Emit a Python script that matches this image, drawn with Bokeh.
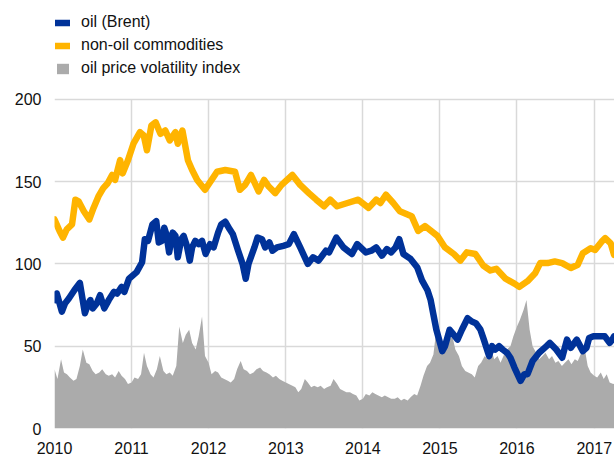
import pandas as pd
from bokeh.plotting import figure
from bokeh.models import (Range1d, FixedTicker, DatetimeTickFormatter, Legend,
                          LegendItem, ColumnDataSource)
from bokeh.embed import file_html
from bokeh.resources import INLINE

# ---------------- data ----------------
year_ticks = ["2010", "2011", "2012", "2013", "2014", "2015", "2016", "2017"]
y_ticks = [0, 50, 100, 150, 200]

oil_dates = [
    "2010-01-04", "2010-01-12", "2010-02-05", "2010-02-20", "2010-03-10", "2010-04-05",
    "2010-05-01", "2010-05-25", "2010-06-10", "2010-06-20", "2010-07-01", "2010-07-20",
    "2010-08-05", "2010-08-25", "2010-09-15", "2010-10-10", "2010-10-25", "2010-11-15",
    "2010-11-28", "2010-12-20", "2011-01-25", "2011-02-20", "2011-03-05", "2011-03-20",
    "2011-04-10", "2011-04-28", "2011-05-10", "2011-05-25", "2011-06-05", "2011-06-15",
    "2011-06-28", "2011-07-15", "2011-07-28", "2011-08-08", "2011-08-25", "2011-09-05",
    "2011-09-20", "2011-10-04", "2011-10-15", "2011-10-30", "2011-11-15", "2011-12-01",
    "2011-12-18", "2012-01-08", "2012-01-25", "2012-02-15", "2012-03-01", "2012-03-20",
    "2012-04-10", "2012-04-25", "2012-05-20", "2012-06-10", "2012-06-25", "2012-07-08",
    "2012-08-05", "2012-08-20", "2012-09-10", "2012-09-25", "2012-10-15", "2012-10-30",
    "2012-11-20", "2012-12-20", "2013-01-15", "2013-02-08", "2013-03-10", "2013-04-15",
    "2013-05-10", "2013-06-05", "2013-07-10", "2013-07-25", "2013-08-28", "2013-10-01",
    "2013-11-10", "2013-12-05", "2014-01-15", "2014-02-10", "2014-03-05", "2014-04-01",
    "2014-04-25", "2014-05-15", "2014-06-05", "2014-06-22", "2014-07-12", "2014-08-15",
    "2014-09-15", "2014-10-08", "2014-11-03", "2014-11-18", "2014-11-30", "2014-12-15",
    "2014-12-28", "2015-01-12", "2015-01-25", "2015-02-16", "2015-03-01", "2015-03-25",
    "2015-04-15", "2015-05-12", "2015-06-01", "2015-06-20", "2015-07-12", "2015-07-28",
    "2015-08-22", "2015-09-05", "2015-09-20", "2015-10-08", "2015-10-25", "2015-11-15",
    "2015-12-01", "2015-12-20", "2016-01-18", "2016-02-05", "2016-02-20", "2016-03-15",
    "2016-04-15", "2016-05-20", "2016-06-05", "2016-07-05", "2016-08-02", "2016-08-25",
    "2016-09-12", "2016-10-10", "2016-11-08", "2016-11-25", "2016-12-08", "2016-12-28",
    "2017-01-20", "2017-02-20", "2017-03-15", "2017-03-28", "2017-04-05",
]
oil_values = [
    78, 82, 71, 76, 79, 84,
    88.5, 70, 76, 78, 73, 76,
    81, 73, 78, 83, 82, 86,
    83, 91, 95, 101, 115, 114,
    124, 126, 113, 114, 122, 118,
    107, 119, 117, 104, 115, 117,
    111, 102, 110, 114, 112, 114,
    106, 112, 110, 119, 124, 125.6,
    121, 118, 108, 100, 91, 100,
    110, 116, 115, 110, 113, 108,
    110, 111, 112, 118, 110, 100,
    104, 102, 108, 107, 116, 110,
    106, 112, 107, 108, 110, 105,
    109, 107, 110, 115, 106, 103,
    98, 90, 84, 78, 70, 60,
    54, 47, 50, 60, 58, 54,
    60, 67, 65, 64, 60, 54,
    44, 50, 48, 50, 48, 46,
    43, 37, 29, 33, 33, 41,
    46, 50, 52, 48, 43, 54,
    49, 54, 47, 49, 55, 56,
    56, 56, 52, 54, 56,
]

nonoil_dates = [
    "2010-01-01", "2010-01-25", "2010-02-10", "2010-02-28", "2010-03-25", "2010-04-10",
    "2010-04-25", "2010-05-20", "2010-06-15", "2010-07-05", "2010-07-28", "2010-08-20",
    "2010-09-10", "2010-10-01", "2010-10-15", "2010-11-08", "2010-11-20", "2010-12-15",
    "2011-01-10", "2011-02-10", "2011-02-28", "2011-03-15", "2011-04-05", "2011-04-25",
    "2011-05-18", "2011-06-10", "2011-07-01", "2011-07-28", "2011-08-08", "2011-08-30",
    "2011-09-25", "2011-10-15", "2011-11-08", "2011-12-15", "2012-01-15", "2012-02-10",
    "2012-03-20", "2012-05-05", "2012-05-28", "2012-06-22", "2012-07-20", "2012-08-25",
    "2012-09-20", "2012-10-12", "2012-11-12", "2012-12-12", "2013-02-01", "2013-03-10",
    "2013-04-20", "2013-05-25", "2013-07-01", "2013-07-30", "2013-09-01", "2013-10-20",
    "2013-12-10", "2014-01-28", "2014-03-05", "2014-03-25", "2014-04-20", "2014-05-25",
    "2014-06-25", "2014-08-20", "2014-09-20", "2014-10-22", "2014-12-20", "2015-01-25",
    "2015-03-08", "2015-04-08", "2015-05-08", "2015-06-18", "2015-07-25", "2015-08-28",
    "2015-09-25", "2015-11-08", "2015-12-20", "2016-01-12", "2016-02-20", "2016-03-28",
    "2016-04-20", "2016-05-25", "2016-06-28", "2016-08-02", "2016-09-12", "2016-10-15",
    "2016-11-08", "2016-12-15", "2017-01-05", "2017-02-05", "2017-02-22", "2017-03-20",
    "2017-04-05",
]
nonoil_values = [
    127, 120, 116, 121, 124, 139,
    138, 132, 127, 134, 141, 146,
    149, 154, 151, 163, 155, 163,
    173, 180, 178, 169, 184, 186,
    179, 181, 175, 180, 173, 181,
    163, 157, 151, 145, 151, 156,
    157, 156, 145, 148, 154, 144,
    151, 147, 143, 148, 154, 148,
    143, 139, 135, 139, 135, 137,
    139, 134, 139, 137, 142, 137,
    132, 129, 120, 123, 117, 110,
    106, 102, 107, 106, 99, 96,
    97, 91, 88, 86, 89.5, 94.5,
    100.5, 100.5, 101.5, 100.5, 97.5, 99.5,
    106.5, 109.5, 108.5, 113.5, 115.6, 112.5,
    105.5,
]

# oil price volatility index, two readings per month (1st and 15th)
vol_values = [
    # 2010
    36, 30, 42, 34, 33, 31, 29, 30, 38, 48, 40, 39, 35, 33, 34, 36, 33, 32, 33, 31, 35, 32, 30, 27,
    # 2011
    28, 31, 30, 33, 46, 38, 33, 31, 36, 44, 35, 33, 34, 32, 38, 62, 52, 57, 60, 52, 48, 56, 68, 44,
    # 2012
    40, 33, 35, 34, 31, 30, 29, 28, 30, 36, 41, 36, 35, 33, 34, 36, 37, 35, 34, 33, 31, 32, 30, 29,
    # 2013
    28, 27, 26, 25, 22, 24, 30, 28, 25, 26, 25, 26, 24, 25, 26, 30, 27, 24, 23, 22, 22, 21, 20, 17,
    # 2014
    18, 21, 20, 22, 21, 20, 19, 20, 19, 18, 18, 19, 17, 18, 17, 19, 21, 20, 26, 32, 38, 40, 45, 60,
    # 2015
    50, 48, 60, 54, 56, 48, 44, 38, 35, 34, 33, 31, 38, 40, 44, 42, 48, 42, 44, 40, 45, 48, 50, 56,
    # 2016
    62, 66, 72, 78, 60, 50, 46, 42, 44, 46, 42, 44, 40, 41, 38, 40, 42, 39, 42, 41, 46, 50, 38, 34,
    # 2017
    32, 31, 34, 30, 33, 28, 27, 28,
]
vol_dates = pd.date_range("2010-01-01", periods=len(vol_values), freq="SMS")

# ---------------- figure ----------------
FONT = "Liberation Sans"
OIL = "#003299"
NONOIL = "#FFB400"
VOL = "#ABABAB"
GRID = "#D9D9D9"

x_start = pd.Timestamp("2010-01-01")
x_end = pd.Timestamp("2017-04-07")
y_top = 260  # room above the 200 line for the legend

p = figure(width=614, height=456, x_axis_type="datetime",
           output_backend="svg", toolbar_location=None,
           x_range=Range1d(x_start, x_end), y_range=Range1d(0, y_top),
           min_border_left=54, min_border_right=0, min_border_top=0,
           min_border_bottom=20)
p.outline_line_color = None
p.background_fill_color = "white"

vol_src = ColumnDataSource(dict(x=vol_dates, y=vol_values))
non_src = ColumnDataSource(dict(x=pd.to_datetime(nonoil_dates), y=nonoil_values))
oil_src = ColumnDataSource(dict(x=pd.to_datetime(oil_dates), y=oil_values))

tick_dt = pd.to_datetime([y + "-01-01" for y in year_ticks])
tick_ms = [int(t.value // 10**6) for t in tick_dt]

# vertical grid lines only up to the top tick (200)
try:
    p.xgrid.cross_bounds = (y_ticks[0], y_ticks[-1])
    p.xgrid.grid_line_color = GRID
except AttributeError:
    p.xgrid.grid_line_color = None
    p.segment(x0=tick_dt, y0=[y_ticks[0]] * len(tick_dt), x1=tick_dt,
              y1=[y_ticks[-1]] * len(tick_dt), line_color=GRID, line_width=1.5,
              level="underlay")
p.ygrid.grid_line_color = GRID
p.xgrid.grid_line_width = 1.5
p.ygrid.grid_line_width = 1.5

r_vol = p.varea(x="x", y1=0, y2="y", source=vol_src, fill_color=VOL)
r_non = p.line(x="x", y="y", source=non_src, line_color=NONOIL, line_width=6.5,
               line_join="round", line_cap="round")
r_oil = p.line(x="x", y="y", source=oil_src, line_color=OIL, line_width=6.5,
               line_join="round", line_cap="round")

p.xaxis.ticker = FixedTicker(ticks=tick_ms)
p.xaxis.formatter = DatetimeTickFormatter(years="%Y", months="%Y", days="%Y",
                                          hours="%Y", minutes="%Y")
p.yaxis.ticker = FixedTicker(ticks=y_ticks)

for ax in (p.xaxis, p.yaxis):
    ax.axis_line_color = None
    ax.major_tick_line_color = None
    ax.minor_tick_line_color = None
    ax.major_tick_out = 0
    ax.major_tick_in = 0
    ax.major_label_text_font = FONT
    ax.major_label_text_font_size = "16px"
    ax.major_label_text_color = "#111111"
p.xaxis.major_label_standoff = 13
p.yaxis.major_label_standoff = 13

legend = Legend(items=[
    LegendItem(label="oil (Brent)", renderers=[r_oil]),
    LegendItem(label="non-oil commodities", renderers=[r_non]),
    LegendItem(label="oil price volatility index", renderers=[r_vol]),
], location=(1, 351), orientation="vertical",
    glyph_width=15, glyph_height=13, label_height=18, spacing=5,
    label_standoff=11, padding=0, margin=0,
    label_text_font=FONT, label_text_font_size="16px", label_text_color="#111111",
    border_line_color=None, background_fill_alpha=0)
p.add_layout(legend, "center")

open("out.html", "w").write(file_html(p, INLINE))
